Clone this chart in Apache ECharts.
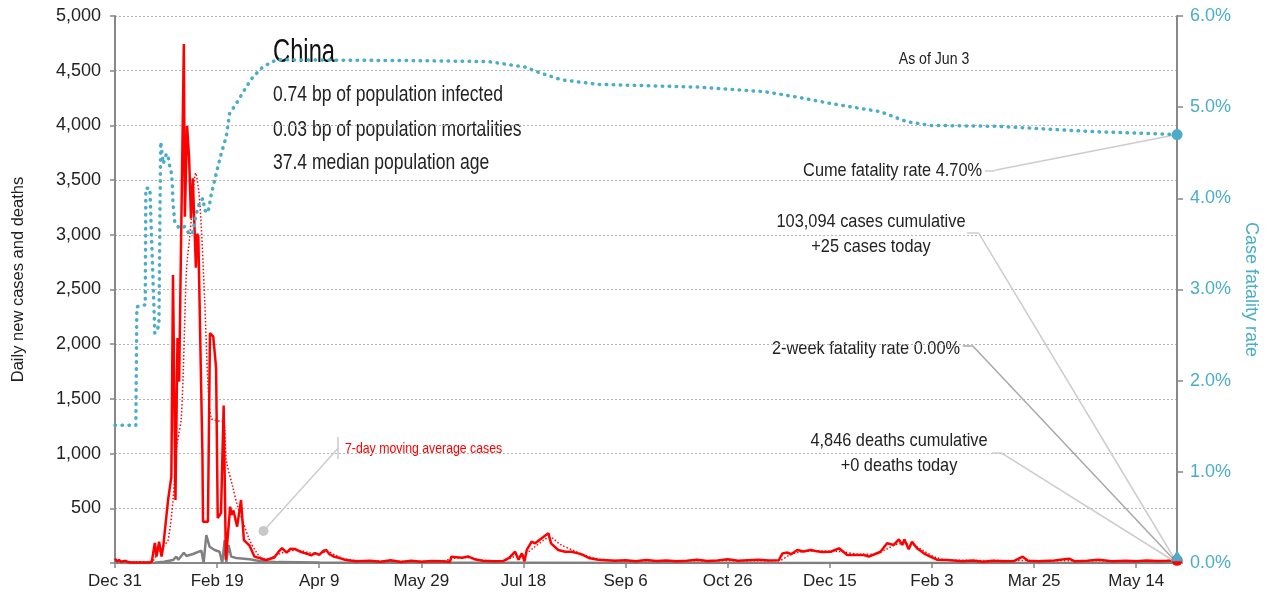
<!DOCTYPE html>
<html>
<head>
<meta charset="utf-8">
<title>China - daily cases and deaths</title>
<script src="https://cdn.jsdelivr.net/npm/echarts/dist/echarts.min.js"></script>
<style>
  html, body { margin: 0; padding: 0; background: #fff; }
  #chart { width: 1268px; height: 604px; }
</style>
</head>
<body>
<div id="chart"></div>
<script>
// x values are days since Dec 31, 2019
const xTickLabels = ['Dec 31', 'Feb 19', 'Apr 9', 'May 29', 'Jul 18', 'Sep 6', 'Oct 26', 'Dec 15', 'Feb 3', 'Mar 25', 'May 14']

// daily new cases
const caseDays = [0, 1, 2, 3, 5, 7, 10, 17, 18, 19.5, 20.3, 21.6, 22.8, 23.6, 26, 27.6, 28.4, 29.6, 30.6, 31.4, 33.7, 34.2, 35.3, 36.3, 37.2, 38.1, 38.9, 39.6, 40.2, 40.8, 42.8, 43.1, 45.5, 46.5, 48.1, 49.5, 50.3, 51.9, 53.2, 54.3, 56.4, 57, 58, 59.8, 61.7, 63.1, 65.9, 68.3, 70.7, 73.9, 78, 80.1, 81.8, 84, 86, 88, 90, 92, 94, 96, 98, 100, 102, 103.4, 105, 107, 110, 113, 118, 125, 130, 135, 140, 145, 150, 155, 160, 164, 164.7, 170, 172.8, 176, 180, 185, 190, 193, 195.9, 197.6, 199.2, 200.5, 201.6, 204, 205.7, 208.9, 212.2, 213.5, 217, 220.4, 223.6, 226.8, 229.3, 232.5, 236.6, 244.7, 250, 255, 260, 265, 270, 275, 280, 285, 290, 295, 300, 305, 310, 315, 320, 325, 326.8, 329.3, 331, 334.1, 337, 340.6, 343, 346, 350.4, 354.5, 358.5, 366.7, 369.1, 374.8, 378, 381.3, 383.8, 385.4, 386.5, 388.6, 390.2, 392.7, 396, 399.2, 402.4, 407.3, 415, 420, 425, 430, 435, 440, 444.4, 447, 452, 460, 467.1, 470, 476, 481.7, 488, 495, 500, 505, 510, 515, 520]
const caseValues = [40, 15, 28, 10, 20, 5, 4, 5, 10, 183, 58, 195, 58, 150, 576, 790, 2632, 576, 2057, 1657, 4744, 3166, 3995, 3700, 3150, 3516, 3530, 2700, 3010, 2980, 1000, 377, 377, 2102, 2069, 1782, 411, 457, 1440, 30, 515, 440, 480, 332, 576, 210, 158, 58, 46, 27, 50, 103, 136, 95, 130, 128, 110, 95, 85, 70, 90, 75, 110, 119, 80, 60, 45, 27, 15, 20, 12, 25, 10, 20, 12, 18, 15, 12, 58, 48, 60, 35, 20, 15, 18, 46, 103, 30, 88, 15, 119, 195, 180, 226, 271, 180, 119, 103, 103, 88, 73, 43, 30, 20, 25, 15, 28, 18, 22, 15, 20, 30, 18, 22, 35, 20, 25, 30, 22, 25, 88, 95, 80, 119, 105, 119, 110, 100, 103, 134, 73, 73, 58, 103, 180, 165, 216, 165, 216, 125, 195, 134, 88, 58, 30, 27, 15, 22, 12, 20, 15, 18, 58, 20, 15, 22, 40, 15, 20, 30, 15, 20, 15, 22, 18, 20, 25]

// 7-day moving average of cases
const maDays = [0, 10, 18, 20, 22, 24, 26, 28.4, 30.1, 32.5, 35, 36.6, 37.4, 39.5, 41.5, 43.9, 45.5, 47.2, 50.2, 53.2, 54.5, 57.6, 60, 62.6, 65.9, 69.1, 71.6, 74, 80, 85, 90, 95, 100, 104, 108, 112, 120, 160, 165, 172, 180, 190, 195, 200, 205, 210, 213, 218, 225, 230, 237, 250, 325, 330, 335, 345, 355, 365, 372, 378, 384, 390, 396, 402, 410, 520]
const maValues = [25, 10, 15, 60, 120, 160, 210, 576, 1050, 1337, 2678, 2983, 3153, 3565, 3300, 2404, 1645, 1322, 1300, 1290, 941, 700, 520, 380, 210, 103, 46, 30, 80, 110, 115, 95, 85, 105, 70, 40, 20, 15, 40, 50, 25, 20, 55, 70, 140, 210, 235, 170, 110, 70, 35, 20, 22, 70, 100, 110, 105, 80, 80, 130, 175, 170, 110, 50, 25, 20]

// daily new deaths
const deathDays = [0, 19, 20.3, 24, 28.4, 30, 31, 33.7, 35, 38.2, 42.3, 43.4, 44.7, 46.3, 48.8, 51.2, 52.5, 53.7, 54.5, 55.6, 56.9, 59.3, 65.9, 70.7, 80, 100, 120, 200, 300, 520]
const deathValues = [0, 0, 5, 12, 27, 58, 30, 94, 64, 82, 113, 0, 256, 149, 119, 103, 0, 210, 5, 165, 58, 46, 35, 18, 8, 5, 3, 3, 1, 1]

// cumulative case fatality rate, %
const cfrDays = [0, 10.2, 10.7, 13.8, 14.8, 15.1, 17.1, 18, 19.5, 21.5, 22.2, 22.4, 23.6, 25.2, 26, 26.8, 27.7, 28.1, 28.4, 29.3, 31.7, 34.1, 36.6, 37.9, 39.9, 41.5, 43.1, 43.9, 45.5, 47.2, 48.8, 50.4, 52, 54.5, 56.1, 59.4, 64.2, 67.5, 72.3, 78.9, 148.8, 182.9, 200.8, 208.9, 218.7, 236.6, 285.4, 317.9, 334.1, 350.4, 374.8, 387.8, 399.2, 431.7, 480.5, 520]
const cfrValues = [1.51, 1.51, 2.81, 2.83, 2.83, 4.11, 4.11, 3.5, 2.52, 2.6, 4.3, 4.62, 4.38, 4.49, 4.46, 4.35, 4.27, 4.13, 3.95, 3.73, 3.67, 3.69, 3.6, 3.62, 3.84, 3.96, 4.0, 3.87, 3.84, 4.05, 4.2, 4.35, 4.49, 4.68, 4.93, 5.04, 5.22, 5.33, 5.44, 5.52, 5.51, 5.5, 5.44, 5.37, 5.3, 5.25, 5.22, 5.17, 5.11, 5.04, 4.95, 4.84, 4.8, 4.79, 4.73, 4.7]

const lastDay = 520
const RED = '#ff0000'
const BLUE = '#4badc8'
const GREY = '#808080'
const SANS = '"Liberation Sans", Arial, sans-serif'

const zip = (xs, ys) => xs.map((x, i) => [x, ys[i]])

// leader line helper (data coordinates)
const seg = (a, b, color) => [
  { coord: a, lineStyle: { color: color || '#cccccc', width: 1.5, type: 'solid' } },
  { coord: b }
]

const chart = echarts.init(document.getElementById('chart'), null, { renderer: 'canvas' })

// no condensed face is installed, so squeeze the annotation text horizontally
const txt = (text, x, y, size, align, squeeze, color) => ({
  type: 'text',
  x: x,
  y: y,
  scaleX: squeeze,
  silent: true,
  style: {
    text: text,
    fill: color || '#222',
    font: size + 'px ' + SANS,
    align: align || 'left',
    verticalAlign: 'middle'
  }
})

const option = {
  animation: false,
  grid: { left: 115, right: 87, top: 16, bottom: 41, containLabel: false },
  xAxis: {
    type: 'value',
    min: 0,
    max: lastDay,
    interval: 50,
    axisLine: { show: true, lineStyle: { color: '#888', width: 2 } },
    axisTick: { show: true, length: 5, lineStyle: { color: '#888', width: 1.5 } },
    splitLine: { show: false },
    axisLabel: {
      showMaxLabel: false,
      margin: 10,
      color: '#222',
      fontSize: 17,
      fontFamily: SANS,
      formatter: v => (v % 50 === 0 && xTickLabels[v / 50]) ? xTickLabels[v / 50] : ''
    }
  },
  yAxis: [
    {
      type: 'value',
      min: 0,
      max: 5000,
      interval: 500,
      name: 'Daily new cases and deaths',
      nameLocation: 'middle',
      nameRotate: 90,
      nameGap: 88,
      nameTextStyle: { color: '#222', fontSize: 16.5, fontFamily: SANS, padding: [0, 0, 0, 20] },
      axisLine: { show: true, lineStyle: { color: '#888', width: 2 } },
      axisTick: { show: true, length: 5, lineStyle: { color: '#888', width: 1.5 } },
      splitLine: { show: true, lineStyle: { color: '#b4b4b4', type: [2, 2], width: 1 } },
      axisLabel: {
        margin: 14,
        color: '#222',
        fontSize: 18,
        fontFamily: SANS,
        formatter: v => v === 0 ? '' : v.toLocaleString('en-US')
      }
    },
    {
      type: 'value',
      min: 0,
      max: 6,
      interval: 1,
      position: 'right',
      name: 'Case fatality rate',
      nameLocation: 'middle',
      nameRotate: -90,
      nameGap: 62,
      nameTextStyle: { color: BLUE, fontSize: 18, fontFamily: SANS },
      axisLine: { show: true, lineStyle: { color: '#888', width: 2 } },
      axisTick: { show: true, length: 6, lineStyle: { color: '#888', width: 1.5 } },
      splitLine: { show: false },
      axisLabel: {
        margin: 13,
        color: BLUE,
        fontSize: 18,
        fontFamily: SANS,
        formatter: v => v.toFixed(1) + '%'
      }
    }
  ],
  series: [
    {
      name: 'Daily deaths',
      type: 'line',
      data: zip(deathDays, deathValues),
      showSymbol: false,
      lineStyle: { color: GREY, width: 2.5 },
      z: 2
    },
    {
      name: '7-day moving average cases',
      type: 'line',
      data: zip(maDays, maValues),
      showSymbol: false,
      smooth: 0.3,
      lineStyle: { color: RED, width: 1.5, type: [1.5, 2] },
      z: 3,
      markPoint: {
        silent: true,
        symbol: 'circle',
        symbolSize: 10,
        label: { show: false },
        itemStyle: { color: '#c8c8c8' },
        data: [{ coord: [72.7, 293] }]
      },
      markLine: {
        silent: true,
        symbol: ['none', 'none'],
        label: { show: false },
        data: [
          seg([72.7, 293], [109.3, 1051]),
          seg([109.3, 951], [109.3, 1152])
        ]
      }
    },
    {
      name: 'Daily cases',
      type: 'line',
      data: zip(caseDays, caseValues),
      showSymbol: false,
      lineStyle: { color: RED, width: 2.5 },
      z: 4,
      markPoint: {
        silent: true,
        symbol: 'circle',
        symbolSize: 11,
        label: { show: false },
        itemStyle: { color: RED },
        data: [{ coord: [lastDay, caseValues[caseValues.length - 1]] }]
      },
      markLine: {
        silent: true,
        symbol: ['none', 'none'],
        label: { show: false },
        data: [
          seg([417.1, 3016], [422.9, 3016]),
          seg([422.9, 3016], [lastDay, 0]),
          seg([415.1, 1984], [420.0, 1984], '#a8a8a8'),
          seg([420.0, 1984], [lastDay, 0], '#a8a8a8'),
          seg([429.3, 1005], [434.1, 1005]),
          seg([434.1, 1005], [lastDay, 0])
        ]
      }
    },
    {
      name: 'Case fatality rate',
      type: 'line',
      yAxisIndex: 1,
      data: zip(cfrDays, cfrValues),
      showSymbol: false,
      lineStyle: { color: BLUE, width: 3.5, type: [0.5, 6.5], cap: 'round' },
      z: 5,
      markPoint: {
        silent: true,
        label: { show: false },
        itemStyle: { color: BLUE },
        data: [
          { coord: [lastDay, cfrValues[cfrValues.length - 1]], symbol: 'circle', symbolSize: 11 },
          { coord: [lastDay, 0.08], symbol: 'triangle', symbolSize: [13, 11] }
        ]
      },
      markLine: {
        silent: true,
        symbol: ['none', 'none'],
        label: { show: false },
        data: [
          seg([425.9, 4.307], [430.7, 4.307]),
          seg([430.7, 4.307], [lastDay, 4.70])
        ]
      }
    }
  ],
  graphic: [
    txt('China', 273, 53, 33, 'left', 0.72, '#111'),
    txt('0.74 bp of population infected', 273, 95, 21.5, 'left', 0.815),
    txt('0.03 bp of population mortalities', 273, 130, 21.5, 'left', 0.815),
    txt('37.4 median population age', 273, 163, 21.5, 'left', 0.815),
    txt('As of Jun 3', 934, 60, 16, 'center', 0.88),
    txt('Cume fatality rate 4.70%', 982, 171, 19, 'right', 0.86),
    txt('103,094 cases cumulative', 871, 222, 19, 'center', 0.86),
    txt('+25 cases today', 871, 247, 19, 'center', 0.86),
    txt('2-week fatality rate 0.00%', 960, 349, 19, 'right', 0.86),
    txt('4,846 deaths cumulative', 899, 441, 19, 'center', 0.86),
    txt('+0 deaths today', 899, 466, 19, 'center', 0.86),
    txt('7-day moving average cases', 345, 449, 15, 'left', 0.82, RED)
  ]
}

chart.setOption(option)
</script>
</body>
</html>
